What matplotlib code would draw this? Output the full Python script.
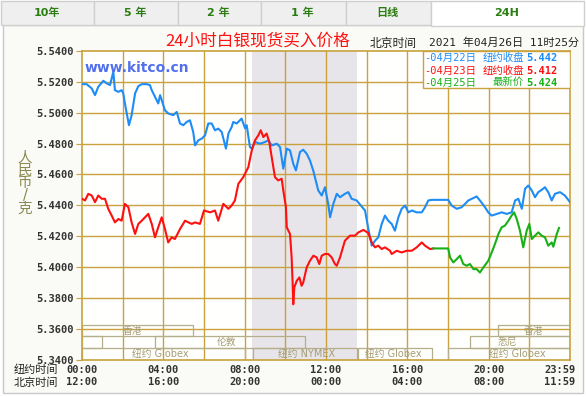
import matplotlib
matplotlib.use('Agg')
import matplotlib.pyplot as plt
from matplotlib.patches import Rectangle
import numpy as np

plt.rcParams['font.family'] = ['DejaVu Sans', 'Noto Sans CJK SC']
MONO = ['DejaVu Sans Mono', 'Noto Sans CJK SC']

# 04/22 (blue), hours NY time / price
hours_0422 = [0, 0.23, 0.48, 0.64, 0.80, 0.97, 1.05, 1.21, 1.38, 1.54, 1.62, 1.79, 1.95, 2.03,
              2.11, 2.20, 2.31, 2.44, 2.61, 2.77, 2.94, 3.18, 3.34, 3.43, 3.59, 3.75, 3.84, 3.92,
              4.08, 4.24, 4.49, 4.66, 4.82, 4.98, 5.15, 5.31, 5.47, 5.56, 5.72, 5.89, 6.05, 6.21,
              6.38, 6.54, 6.70, 6.87, 7.08, 7.20, 7.36, 7.44, 7.61, 7.85, 8.02, 8.10, 8.26, 8.35,
              8.51, 8.75, 9.00, 9.16, 9.33, 9.58, 9.74, 9.90, 10.07, 10.23, 10.39, 10.52, 10.72,
              10.88, 11.05, 11.21, 11.37, 11.62, 11.79, 11.95, 12.11, 12.20, 12.36, 12.53, 12.69,
              12.93, 13.10, 13.26, 13.51, 13.67, 13.92, 14.08, 14.25, 14.41, 14.57, 14.74, 14.90,
              15.06, 15.23, 15.39, 15.56, 15.72, 15.89, 16.05, 16.22, 16.46, 16.71, 16.87, 17.03,
              17.20, 18.01, 18.18, 18.43, 18.67, 18.84, 19.00, 19.17, 19.41, 19.57, 19.82, 19.98,
              20.15, 20.40, 20.64, 20.89, 21.13, 21.30, 21.46, 21.63, 21.79, 21.95, 22.12, 22.28,
              22.44, 22.61, 22.77, 22.93, 23.10, 23.26, 23.51, 23.75, 24.0]
price_0422 = [5.5185, 5.5185, 5.5157, 5.5114, 5.5168, 5.5194, 5.5207, 5.5190, 5.5179, 5.5265,
              5.5146, 5.5135, 5.5146, 5.5125, 5.5060, 5.4995, 5.4919, 5.4984, 5.5125, 5.5172,
              5.5185, 5.5185, 5.5179, 5.5146, 5.5103, 5.5060, 5.5114, 5.5081, 5.5016, 5.4995,
              5.4984, 5.5005, 5.4930, 5.4919, 5.4940, 5.4951, 5.4875, 5.4788, 5.4821, 5.4832,
              5.4853, 5.4930, 5.4930, 5.4886, 5.4897, 5.4875, 5.4767, 5.4865, 5.4907, 5.4940,
              5.4930, 5.4962, 5.4899, 5.4919, 5.4777, 5.4767, 5.4810, 5.4799, 5.4810, 5.4821,
              5.4788, 5.4799, 5.4777, 5.4637, 5.4767, 5.4756, 5.4669, 5.4626, 5.4745, 5.4760,
              5.4734, 5.4691, 5.4626, 5.4496, 5.4463, 5.4517, 5.4409, 5.4322, 5.4409, 5.4474,
              5.4452, 5.4474, 5.4485, 5.4442, 5.4431, 5.4405, 5.4366, 5.4248, 5.4138, 5.4170,
              5.4192, 5.4279, 5.4333, 5.4300, 5.4279, 5.4235, 5.4322, 5.4377, 5.4398, 5.4354,
              5.4366, 5.4354, 5.4354, 5.4387, 5.4431, 5.4435, 5.4435, 5.4398, 5.4377, 5.4387,
              5.4409, 5.4431, 5.4442, 5.4457, 5.4431, 5.4387, 5.4354, 5.4333, 5.4344, 5.4354,
              5.4344, 5.4354, 5.4431, 5.4442, 5.4377, 5.4507, 5.4528, 5.4496, 5.4452, 5.4485,
              5.4500, 5.4517, 5.4485, 5.4431, 5.4474, 5.4485, 5.4463, 5.4420]

# 04/23 (red)
hours_0423 = [0, 0.15, 0.31, 0.48, 0.64, 0.80, 0.97, 1.13, 1.29, 1.46, 1.62, 1.79, 1.95, 2.11,
              2.28, 2.44, 2.61, 2.77, 2.94, 3.10, 3.26, 3.43, 3.59, 3.75, 3.92, 4.08, 4.24, 4.41,
              4.57, 4.82, 5.07, 5.23, 5.40, 5.56, 5.80, 6.00, 6.30, 6.54, 6.70, 6.95, 7.20, 7.36,
              7.52, 7.69, 7.93, 8.10, 8.18, 8.35, 8.51, 8.67, 8.79, 8.92, 9.08, 9.21, 9.33, 9.49,
              9.65, 9.82, 9.90, 10.03, 10.07, 10.23, 10.31, 10.36, 10.39, 10.44, 10.56, 10.69,
              10.80, 10.88, 11.05, 11.21, 11.38, 11.54, 11.67, 11.79, 11.95, 12.11, 12.28, 12.44,
              12.53, 12.69, 12.93, 13.18, 13.43, 13.59, 13.84, 14.08, 14.25, 14.41, 14.57, 14.74,
              14.90, 15.15, 15.23, 15.48, 15.72, 15.97, 16.22, 16.46, 16.71, 16.87, 17.12, 17.28]
price_0423 = [5.4442, 5.4431, 5.4474, 5.4463, 5.4420, 5.4463, 5.4442, 5.4442, 5.4377, 5.4333,
              5.4289, 5.4311, 5.4300, 5.4409, 5.4387, 5.4289, 5.4214, 5.4279, 5.4300, 5.4322,
              5.4344, 5.4279, 5.4192, 5.4257, 5.4322, 5.4246, 5.4159, 5.4192, 5.4181, 5.4246,
              5.4300, 5.4289, 5.4279, 5.4289, 5.4279, 5.4366, 5.4354, 5.4366, 5.4300, 5.4409,
              5.4377, 5.4398, 5.4431, 5.4539, 5.4582, 5.4626, 5.4647, 5.4756, 5.4821, 5.4853,
              5.4886, 5.4842, 5.4865, 5.4810, 5.4712, 5.4582, 5.4561, 5.4572, 5.4496, 5.4387,
              5.4257, 5.4214, 5.4062, 5.3889, 5.3758, 5.3867, 5.3910, 5.3932, 5.3878, 5.3899,
              5.3997, 5.4040, 5.4073, 5.4062, 5.4019, 5.4073, 5.4084, 5.4084, 5.4062, 5.4019,
              5.4008, 5.4062, 5.4170, 5.4203, 5.4203, 5.4224, 5.4240, 5.4220, 5.4159, 5.4127,
              5.4138, 5.4116, 5.4127, 5.4105, 5.4084, 5.4105, 5.4094, 5.4105, 5.4105, 5.4127,
              5.4159, 5.4138, 5.4116, 5.4120]

# 04/25 (green)
hours_0425 = [17.28, 18.01, 18.10, 18.26, 18.43, 18.59, 18.75, 18.92, 19.08, 19.25, 19.41, 19.57,
              19.74, 19.98, 20.15, 20.31, 20.48, 20.64, 20.80, 20.97, 21.13, 21.25, 21.38, 21.54,
              21.70, 21.87, 22.00, 22.12, 22.28, 22.44, 22.61, 22.77, 22.93, 23.10, 23.18, 23.35,
              23.46]
price_0425 = [5.4120, 5.4120, 5.4062, 5.4029, 5.4051, 5.4073, 5.4019, 5.4008, 5.4019, 5.3986,
              5.3986, 5.3964, 5.3997, 5.4040, 5.4094, 5.4149, 5.4214, 5.4257, 5.4268, 5.4300,
              5.4333, 5.4354, 5.4311, 5.4235, 5.4127, 5.4235, 5.4279, 5.4181, 5.4203, 5.4224,
              5.4203, 5.4192, 5.4138, 5.4159, 5.4131, 5.4214, 5.4253]

legend_dates = ['-04月22日', '-04月23日', '-04月25日']
legend_kinds = ['纽约收盘', '纽约收盘', '最新价']
legend_values = ['5.442', '5.412', '5.424']
series_colors = ['#1e8cf5', '#ff1010', '#18b018']

ny_times = ['00:00', '04:00', '08:00', '12:00', '16:00', '20:00', '23:59']
bj_times = ['12:00', '16:00', '20:00', '00:00', '04:00', '08:00', '11:59']
time_ticks = [0, 4, 8, 12, 16, 20, 23.5]

nymex_hours = (8.37, 13.53)

# trading sessions: name, start, end, row, label position
session_names = ['香港', '', '伦敦', '纽约 Globex', '纽约 NYMEX', '纽约 Globex', '悉尼', '香港', '纽约 Globex']
session_start = [0, 0, 3.59, 0, 8.41, 13.57, 19.08, 20.46, 18.0]
session_end = [5.47, 0.97, 10.97, 8.02, 13.53, 17.2, 24, 24, 24]
session_row = [0, 1, 1, 2, 2, 2, 1, 0, 2]
session_label = [2.5, 0, 7.1, 3.84, 11.05, 15.3, 20.9, 22.2, 21.4]
row_bottom = [5.3550, 5.3475, 5.3400]
row_height = 0.0075

tab_labels = ['10年', '5 年', '2 年', '1 年', '日线', '24H']
tab_edges = [0, 93, 177, 260, 345, 430, 583]

grid_c = '#c9a23e'

fig = plt.figure(figsize=(5.86, 3.97), dpi=100)
fig.patch.set_facecolor('white')

# page furniture in pixel coordinates
bg = fig.add_axes([0, 0, 1, 1])
bg.set_xlim(0, 586)
bg.set_ylim(397, 0)
bg.axis('off')
bg.add_patch(Rectangle((3, 25), 580, 368, fc='#fafbf6', ec='#c8c8c8', lw=1))
for i, lab in enumerate(tab_labels):
    x0, x1 = tab_edges[i], tab_edges[i + 1]
    active = i == len(tab_labels) - 1
    bg.add_patch(Rectangle((x0 + 0.5, 0.5), x1 - x0, 24.5 if not active else 25,
                           fc='white' if active else '#efefef', ec='#cfcfcf', lw=1))
    bg.text((x0 + x1) / 2, 13, lab, ha='center', va='center', fontsize=8,
            fontweight='bold', color='#2a7d10')

bg.text(258, 41, '24小时白银现货买入价格', ha='center', va='center', fontsize=12,
        color='#ff1111', family=['Noto Sans CJK SC'])
bg.text(370, 43, '北京时间', ha='left', va='center', fontsize=8.5, color='#222222')
bg.text(429, 43, '2021 年04月26日 11时25分', ha='left', va='center', fontsize=8,
        color='#222222', family=MONO)
bg.text(25, 183, '\n'.join('人民币/克'), ha='center', va='center', fontsize=10.5,
        color='#8a8a50', linespacing=0.82)
bg.text(14, 370, '纽约时间', ha='left', va='center', fontsize=8, color='#222222')
bg.text(14, 383, '北京时间', ha='left', va='center', fontsize=8, color='#222222')

ax = fig.add_axes([82 / 586, 1 - 359.5 / 397, 488 / 586, 308.5 / 397])
ax.set_facecolor('#fffffd')
ax.set_xlim(0, 24)
ax.set_ylim(5.34, 5.54)
ax.axvspan(*nymex_hours, color='#e8e5ea', zorder=0, lw=0)

for x in range(2, 24, 2):
    ax.axvline(x, color=grid_c, lw=1, zorder=1)
for y in np.arange(5.36, 5.535, 0.02):
    ax.axhline(y, color=grid_c, lw=1, zorder=1)
for s in ax.spines.values():
    s.set_color(grid_c)
    s.set_linewidth(1.2)

# session boxes
for name, s0, s1, r, lx in zip(session_names, session_start, session_end, session_row, session_label):
    ax.add_patch(Rectangle((s0, row_bottom[r]), s1 - s0, row_height, fill=False,
                           ec='#b5ae8a', lw=0.9, zorder=2))
    if name:
        ax.text(lx, row_bottom[r] + row_height / 2, name, ha='center', va='center',
                fontsize=7, color='#a49d74', zorder=2)

ax.plot(hours_0422, price_0422, color=series_colors[0], lw=1.5, zorder=4)
ax.plot(hours_0423, price_0423, color=series_colors[1], lw=1.5, zorder=4)
ax.plot(hours_0425, price_0425, color=series_colors[2], lw=1.5, zorder=5)

ax.text(0.005, 0.945, 'www.kitco.cn', transform=ax.transAxes, ha='left', va='center',
        fontsize=10, fontweight='bold', color='#5270ee', zorder=6)

# legend box
ax.add_patch(Rectangle((0.699, 0.88), 0.301, 0.12, transform=ax.transAxes, fc='white',
                       ec=grid_c, lw=1, zorder=6))
for i in range(3):
    yy = 0.976 - i * 0.04
    ax.text(0.701, yy, legend_dates[i], transform=ax.transAxes, ha='left', va='center',
            fontsize=7.5, color=series_colors[i], family=MONO, zorder=7)
    ax.text(0.905, yy, legend_kinds[i], transform=ax.transAxes, ha='right', va='center',
            fontsize=7.5, color=series_colors[i], zorder=7)
    ax.text(0.910, yy, legend_values[i], transform=ax.transAxes, ha='left', va='center',
            fontsize=7.5, color=series_colors[i], family=MONO, fontweight='bold', zorder=7)

ax.set_yticks(np.arange(5.34, 5.5401, 0.02))
ax.set_yticklabels([f'{v:.4f}' for v in np.arange(5.34, 5.5401, 0.02)])
ax.tick_params(axis='y', length=4, color=grid_c, pad=2, labelsize=7.5, labelcolor='#333333')
for lbl in ax.get_yticklabels():
    lbl.set_family(MONO)
    lbl.set_fontweight('bold')

ax.set_xticks(time_ticks)
ax.set_xticklabels([f'{a}\n{b}' for a, b in zip(ny_times, bj_times)])
ax.tick_params(axis='x', length=0, pad=4, labelsize=7.5, labelcolor='#333333')
for lbl in ax.get_xticklabels():
    lbl.set_family(MONO)
    lbl.set_fontweight('bold')
    lbl.set_linespacing(1.25)

fig.savefig('out.png', dpi=100, facecolor='white')
